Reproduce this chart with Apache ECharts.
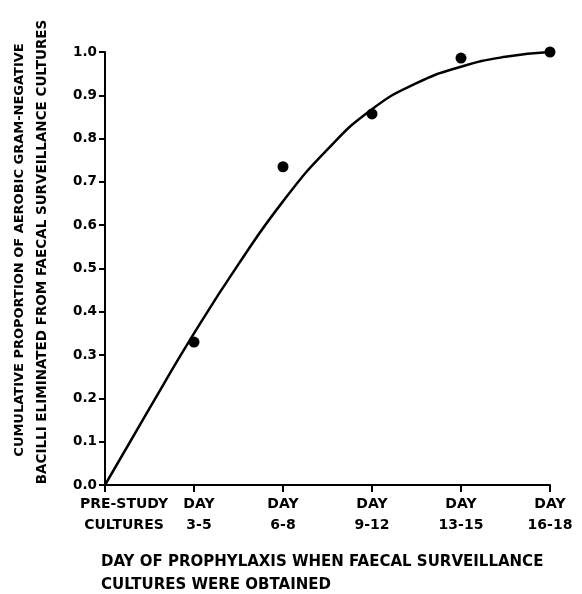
<!DOCTYPE html>
<html>
<head>
<meta charset="utf-8">
<script src="https://cdn.jsdelivr.net/npm/echarts@6/dist/echarts.min.js"></script>
<style>
html,body{margin:0;padding:0;background:#fff;}
#c{width:582px;height:594px;}
</style>
</head>
<body>
<div id="c"></div>
<script>
// Data
const categoriesTop = ['PRE-STUDY', 'DAY', 'DAY', 'DAY', 'DAY', 'DAY'];
const categoriesBottom = ['CULTURES', '3-5', '6-8', '9-12', '13-15', '16-18'];
// observed points: [category position, proportion]
const observedX = [1, 2, 3, 4, 5];
const observedY = [0.33, 0.735, 0.857, 0.986, 1.0];
// fitted curve: [category position, proportion]
const curveX = [0, 0.5, 1, 1.5, 2, 2.5, 3, 3.5, 4, 4.5, 5];
const curveY = [0, 0.177, 0.35, 0.51, 0.655, 0.775, 0.868, 0.928, 0.966, 0.989, 1.0];
const yTitle1 = 'CUMULATIVE PROPORTION OF AEROBIC GRAM-NEGATIVE';
const yTitle2 = 'BACILLI ELIMINATED FROM FAECAL SURVEILLANCE CULTURES';
const xTitle1 = 'DAY OF PROPHYLAXIS WHEN FAECAL SURVEILLANCE';
const xTitle2 = 'CULTURES WERE OBTAINED';

const FONT = 'DejaVu Sans';
const chart = echarts.init(document.getElementById('c'), null, {renderer: 'canvas'});
const richBase = {fontFamily: FONT, fontWeight: 'bold', fontSize: 14, color: '#000', lineHeight: 21};

chart.setOption({
  animation: false,
  backgroundColor: '#fff',
  grid: {left: 105, right: 32, top: 52, bottom: 109, containLabel: false},
  xAxis: {
    type: 'value',
    min: 0,
    max: categoriesTop.length - 1,
    interval: 1,
    axisLine: {lineStyle: {color: '#000', width: 2}},
    axisTick: {show: true, length: 7, lineStyle: {color: '#000', width: 2}},
    axisLabel: {
      margin: 9,
      color: '#000',
      fontFamily: FONT,
      fontWeight: 'bold',
      fontSize: 14,
      lineHeight: 21,
      showMinLabel: true,
      showMaxLabel: true,
      formatter: function (v) {
        const i = Math.round(v);
        const s = i === 0 ? 'a' : (i === 1 ? 'b' : 'c');
        return '{' + s + '|' + categoriesTop[i] + '}\n{' + s + '|' + categoriesBottom[i] + '}';
      },
      rich: {
        a: Object.assign({}, richBase, {padding: [0, 0, 0, 38]}),
        b: Object.assign({}, richBase, {padding: [0, 0, 0, 10]}),
        c: Object.assign({}, richBase)
      }
    },
    splitLine: {show: false}
  },
  yAxis: {
    type: 'value',
    min: 0,
    max: 1,
    interval: 0.1,
    axisLine: {show: true, lineStyle: {color: '#000', width: 2}},
    axisTick: {show: true, length: 6, lineStyle: {color: '#000', width: 2}},
    axisLabel: {
      color: '#000',
      fontFamily: FONT,
      fontWeight: 'bold',
      fontSize: 13.5,
      margin: 8,
      formatter: v => v.toFixed(1)
    },
    splitLine: {show: false}
  },
  graphic: [
    {type: 'text', x: 20, y: 250, rotation: Math.PI / 2,
     style: {text: yTitle1, fill: '#000', font: 'bold 13px "' + FONT + '"', align: 'center', verticalAlign: 'middle'}},
    {type: 'text', x: 42, y: 252, rotation: Math.PI / 2,
     style: {text: yTitle2, fill: '#000', font: 'bold 13.5px "' + FONT + '"', align: 'center', verticalAlign: 'middle'}},
    {type: 'text', x: 101, y: 562,
     style: {text: xTitle1, fill: '#000', font: 'bold 15px "' + FONT + '"', align: 'left', verticalAlign: 'middle'}},
    {type: 'text', x: 101, y: 585,
     style: {text: xTitle2, fill: '#000', font: 'bold 15px "' + FONT + '"', align: 'left', verticalAlign: 'middle'}}
  ],
  series: [
    {
      type: 'line',
      data: curveX.map((x, i) => [x, curveY[i]]),
      smooth: true,
      showSymbol: false,
      lineStyle: {color: '#000', width: 2.5},
      z: 2
    },
    {
      type: 'scatter',
      data: observedX.map((x, i) => [x, observedY[i]]),
      symbol: 'circle',
      symbolSize: 11,
      itemStyle: {color: '#000', opacity: 1},
      z: 3
    }
  ]
});
</script>
</body>
</html>
